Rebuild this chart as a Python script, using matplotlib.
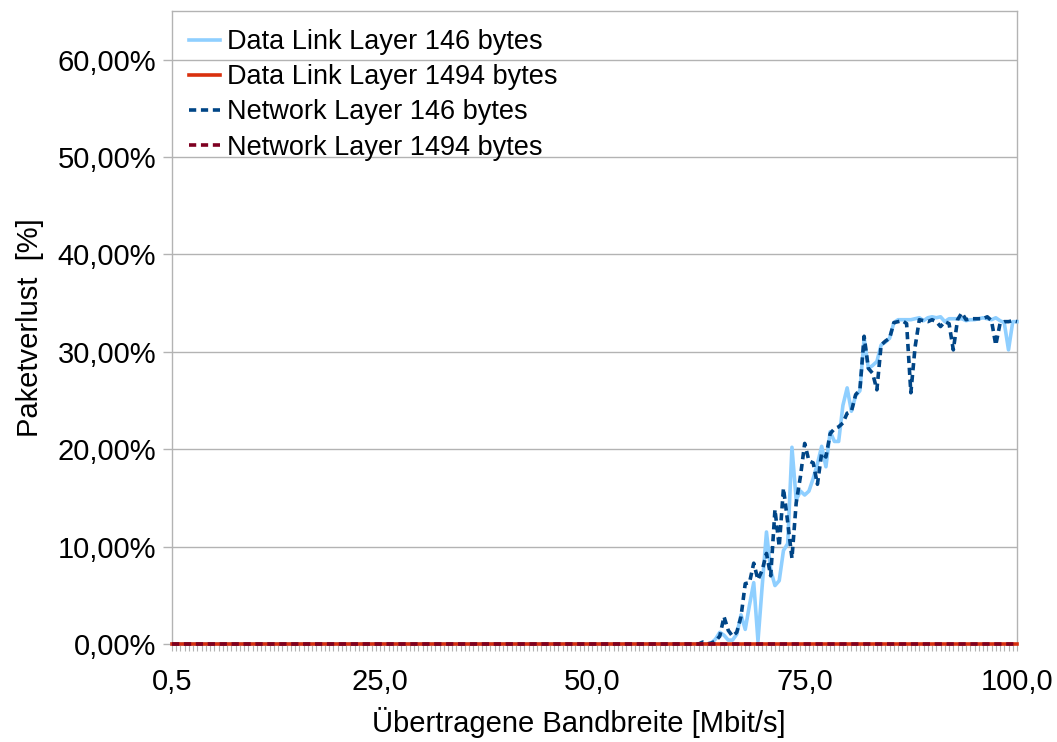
import numpy as np
import matplotlib
matplotlib.use("Agg")
import matplotlib.pyplot as plt
from matplotlib.ticker import FixedLocator, FuncFormatter

plt.rcParams["font.family"] = ["Liberation Sans", "DejaVu Sans"]

# Offered bandwidth categories: 0.5 ... 100.0 Mbit/s in 0.5 steps
bandwidth = np.arange(1, 201) * 0.5

# Packet loss [%]; no loss is measured below 63 Mbit/s
no_loss = [0.0] * 125

# 63.0 ... 100.0 Mbit/s
dl_146_tail = [
    0.0, 0.0, 0.1, 0.5, 1.2, 0.9, 0.4, 0.4, 1.0, 3.0,
    1.5, 4.0, 6.3, 0.3, 6.0, 11.5, 7.6, 6.0, 6.5, 9.6,
    10.3, 20.2, 14.8, 15.7, 15.3, 15.7, 17.0, 18.5, 20.3, 18.2,
    21.8, 20.8, 20.8, 24.5, 26.3, 23.9, 25.5, 26.0, 31.4, 28.3,
    28.6, 29.0, 30.7, 31.0, 31.4, 33.0, 33.3, 33.3, 33.3, 33.3,
    33.4, 33.5, 33.2, 33.5, 33.6, 33.5, 33.6, 33.1, 33.4, 33.4,
    33.4, 33.4, 33.2, 33.3, 33.3, 33.4, 33.5, 33.4, 33.3, 33.5,
    33.2, 33.0, 30.2, 33.1, 33.1,
]
nl_146_tail = [
    0.2, 0.0, 0.1, 0.3, 0.8, 2.8, 1.4, 0.8, 1.2, 2.8,
    6.2, 6.3, 8.3, 6.6, 7.6, 9.3, 7.0, 13.8, 10.0, 16.0,
    12.5, 8.8, 14.5, 17.2, 20.6, 18.8, 18.6, 16.4, 19.6, 19.2,
    21.6, 22.1, 22.3, 22.7, 23.7, 23.9, 25.6, 26.1, 31.6, 28.3,
    27.8, 26.1, 30.7, 31.1, 31.4, 33.0, 33.1, 33.2, 32.9, 25.8,
    30.5, 33.3, 33.2, 33.1, 33.3, 33.1, 32.6, 33.1, 32.9, 30.2,
    33.3, 34.0, 33.3, 33.4, 33.4, 33.4, 33.4, 33.6, 33.2, 30.7,
    32.9, 33.1, 33.1, 33.2, 33.1,
]

dl_146 = no_loss + dl_146_tail
nl_146 = no_loss + nl_146_tail
dl_1494 = [0.0] * 200
nl_1494 = [0.0] * 200

series_labels = [
    "Data Link Layer 146 bytes",
    "Data Link Layer 1494 bytes",
    "Network Layer 146 bytes",
    "Network Layer 1494 bytes",
]
x_tick_values = [0.5, 25.0, 50.0, 75.0, 100.0]
y_tick_values = [0, 10, 20, 30, 40, 50, 60]

W, H = 1057, 742
fig = plt.figure(figsize=(W / 100, H / 100), dpi=100)
ax = fig.add_axes([172 / W, (H - 644) / H, 845 / W, 633 / H])

grid_c = "#b3b3b3"
lw = 2.6
dash = (0, (2.0, 1.3))

ax.plot(bandwidth, dl_146, color="#8fcfff", lw=lw, label=series_labels[0],
        solid_joinstyle="round", zorder=3, clip_on=False)
ax.plot(bandwidth, nl_146, color="#004586", lw=lw, linestyle=dash,
        dash_capstyle="butt", label=series_labels[2], zorder=4, clip_on=False)
ax.plot(bandwidth, dl_1494, color="#d9300e", lw=lw, label=series_labels[1],
        zorder=5, clip_on=False)
ax.plot(bandwidth, nl_1494, color="#7e0021", lw=lw, linestyle=dash,
        dash_capstyle="butt", label=series_labels[3], zorder=6, clip_on=False)

ax.set_xlim(0.5, 100.0)
ax.set_ylim(0, 65)

ax.xaxis.set_major_locator(FixedLocator(x_tick_values))
ax.xaxis.set_minor_locator(FixedLocator(bandwidth))
ax.xaxis.set_major_formatter(
    FuncFormatter(lambda v, p: f"{v:.1f}".replace(".", ",")))
ax.yaxis.set_major_locator(FixedLocator(y_tick_values))
ax.yaxis.set_major_formatter(
    FuncFormatter(lambda v, p: f"{v:.2f}%".replace(".", ",")))

ax.grid(axis="y", color=grid_c, lw=1.0, zorder=0)
ax.set_axisbelow(True)
for side in ["left", "right", "top", "bottom"]:
    ax.spines[side].set_color(grid_c)
    ax.spines[side].set_linewidth(1.0)

fs = 21
ax.tick_params(axis="y", which="major", direction="out", length=6.5,
               width=1.0, color=grid_c, pad=5.0, labelsize=fs)
ax.tick_params(axis="x", which="both", direction="out", length=5.0,
               width=0.8, color=grid_c, pad=12, labelsize=fs)

ax.set_ylabel("Paketverlust  [%]", fontsize=fs)
ax.yaxis.set_label_coords(-0.152, 0.5)
fig.text(579 / W, 1 - 722 / H, "Übertragene Bandbreite [Mbit/s]",
         fontsize=fs, ha="center", va="center")

handles, labels = ax.get_legend_handles_labels()
order = [labels.index(s) for s in series_labels]
ax.legend([handles[i] for i in order], [labels[i] for i in order],
          loc="upper left", bbox_to_anchor=(189 / W, 1 - 29 / H),
          bbox_transform=fig.transFigure, frameon=False, fontsize=19.5,
          handlelength=1.15, handletextpad=0.25, labelspacing=0.34,
          borderpad=0, borderaxespad=0)

fig.savefig("out.png", dpi=100)
